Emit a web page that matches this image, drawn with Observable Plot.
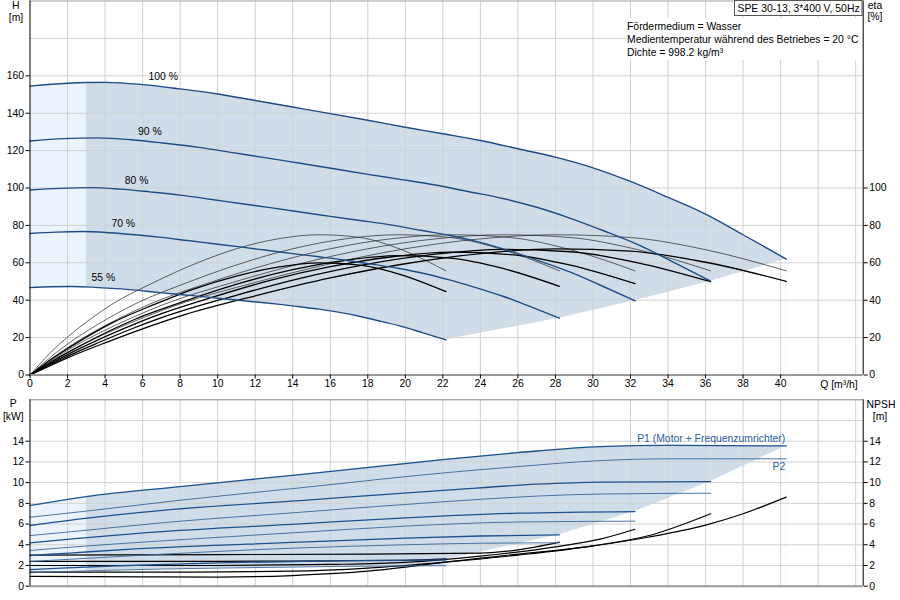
<!DOCTYPE html>
<html><head><meta charset="utf-8">
<script src="https://cdn.jsdelivr.net/npm/d3@7"></script>
<script src="https://cdn.jsdelivr.net/npm/@observablehq/plot@0.6"></script>
<style>
html,body{margin:0;padding:0;background:#fff;}
#chart svg{display:block;}
</style></head><body><div id="chart"></div>
<script>
// ---------- data ----------
const speeds = [100, 90, 80, 70, 55];

// Head H [m] vs Q [m3/h]
const h100Q = [0, 2, 3, 4, 6, 8, 10, 12, 14, 16, 18, 20, 22, 24, 26, 28, 30, 32, 34, 36, 38, 40.3];
const h100  = [154.5, 156, 156.4, 156.5, 155.3, 153, 150.3, 146.8, 143.3, 139.8, 136.2, 132.5, 129, 125.4, 121, 116.5, 110.8, 103.5, 95, 86, 75, 62];
const h90Q = [0, 1.8, 3.6, 5.4, 7.2, 9, 10.8, 12.6, 14.4, 16.2, 18, 19.8, 21.6, 23.4, 25.2, 27, 28.8, 30.6, 32.4, 34.2, 36.27];
const h90  = [125.1, 126.4, 126.8, 125.8, 123.9, 121.7, 118.9, 116.1, 113.2, 110.3, 107.3, 104.5, 101.6, 98, 94.4, 89.7, 83.8, 77, 69.7, 60.8, 50.2];
const h80Q = [0, 1.6, 3.2, 4.8, 6.4, 8, 9.6, 11.2, 12.8, 14.4, 16, 17.6, 19.2, 20.8, 22.4, 24, 25.6, 27.2, 28.8, 30.4, 32.24];
const h80  = [98.9, 99.8, 100.2, 99.4, 97.9, 96.2, 94, 91.7, 89.5, 87.2, 84.8, 82.6, 80.3, 77.4, 74.6, 70.9, 66.2, 60.8, 55, 48, 39.7];
const h70Q = [0, 1.4, 2.8, 4.2, 5.6, 7, 8.4, 9.8, 11.2, 12.6, 14, 15.4, 16.8, 18.2, 19.6, 21, 22.4, 23.8, 25.2, 26.6, 28.21];
const h70  = [75.7, 76.4, 76.7, 76.1, 75, 73.6, 71.9, 70.2, 68.5, 66.7, 64.9, 63.2, 61.4, 59.3, 57.1, 54.3, 50.7, 46.6, 42.1, 36.8, 30.4];
const h55Q = [0, 1.1, 2.2, 3.3, 4.4, 5.5, 6.6, 7.7, 8.8, 9.9, 11, 12.1, 13.2, 14.3, 15.4, 16.5, 17.6, 18.7, 19.8, 20.9, 22.17];
const h55  = [46.7, 47.2, 47.3, 47, 46.3, 45.5, 44.4, 43.3, 42.3, 41.2, 40.1, 39, 37.9, 36.6, 35.2, 33.5, 31.3, 28.7, 26, 22.7, 18.8];

// Efficiency eta [%]: pump (thin) and total (thick)
const eta100Q = [0, 2, 4, 6, 8, 12, 16, 20, 24, 28, 32, 36, 40.3];
const eta90Q  = [0, 1.8, 3.6, 5.4, 7.2, 10.8, 14.4, 18, 21.6, 25.2, 28.8, 32.4, 36.27];
const eta80Q  = [0, 1.6, 3.2, 4.8, 6.4, 9.6, 12.8, 16, 19.2, 22.4, 25.6, 28.8, 32.24];
const eta70Q  = [0, 1.4, 2.8, 4.2, 5.6, 8.4, 11.2, 14, 16.8, 19.6, 22.4, 25.2, 28.21];
const eta55Q  = [0, 1.1, 2.2, 3.3, 4.4, 6.6, 8.8, 11, 13.2, 15.4, 17.6, 19.8, 22.17];
const etaPump100 = [0, 12, 22, 30.5, 38, 49.5, 59.5, 67.5, 72.8, 75, 73.5, 67, 55.7];
const etaPump90  = [0, 12, 22, 30.5, 38, 49.5, 59.5, 67.5, 72.8, 75, 73.5, 67, 55.7];
const etaPump80  = [0, 12, 22, 30.5, 38, 49.5, 59.5, 67.5, 72.8, 75, 73.5, 67, 55.7];
const etaPump70  = [0, 12, 22, 30.5, 38, 49.5, 59.5, 67.5, 72.8, 75, 73.5, 67, 55.7];
const etaPump55  = [0, 12, 22, 30.5, 38, 49.5, 59.5, 67.5, 72.8, 75, 73.5, 67, 55.7];
const etaTot100 = [0, 9.2, 17.2, 24.7, 31.5, 42.3, 51.9, 59.5, 64.9, 67.5, 66.2, 60.3, 50.1];
const etaTot90  = [0, 9.1, 17.1, 24.6, 31.3, 42.1, 51.7, 59.3, 64.6, 67.2, 65.9, 60, 49.9];
const etaTot80  = [0, 8.9, 16.8, 24, 30.6, 41.2, 50.6, 57.9, 63.1, 65.7, 64.4, 58.7, 48.8];
const etaTot70  = [0, 8.7, 16.3, 23.4, 29.8, 40, 49.1, 56.3, 61.3, 63.8, 62.5, 57, 47.4];
const etaTot55  = [0, 8.2, 15.3, 22, 28, 37.6, 46.2, 52.9, 57.7, 60, 58.8, 53.6, 44.6];

// Power P1 / P2 [kW]
const p100Q = [0, 3, 8, 14.4, 22.4, 26, 30.4, 34, 40.3];
const p1_100 = [7.8, 8.66, 9.62, 10.78, 12.3, 12.9, 13.48, 13.6, 13.55];
const p2_100 = [6.66, 7.25, 8.3, 9.5, 11.0, 11.55, 12.13, 12.3, 12.3];
const p90Q = [0, 2.7, 7.2, 14.4, 22.4, 27, 30.4, 36.27];
const p1_90 = [5.86, 6.5, 7.35, 8.27, 9.3, 9.85, 10.05, 10.1];
const p2_90 = [4.89, 5.35, 6.15, 7.14, 8.2, 8.7, 8.9, 8.98];
const p80Q = [0, 2.4, 6.4, 14.4, 20, 26, 32.24];
const p1_80 = [4.19, 4.6, 5.2, 6.02, 6.6, 7.05, 7.21];
const p2_80 = [3.45, 3.8, 4.3, 5.2, 5.8, 6.2, 6.28];
const p70Q = [0, 2.1, 5.6, 14.4, 20, 24, 28.21];
const p1_70 = [2.96, 3.2, 3.6, 4.25, 4.65, 4.85, 4.96];
const p2_70 = [2.38, 2.6, 2.95, 3.7, 4.0, 4.15, 4.19];
const p55Q = [0, 1.65, 4.4, 10, 16, 22.17];
const p1_55 = [1.6, 1.75, 1.95, 2.25, 2.45, 2.55];
const p2_55 = [1.3, 1.4, 1.55, 1.75, 1.9, 1.98];

// NPSH [m]
const n100Q = [0, 6, 10, 14, 18, 20, 22, 25.3, 29.5, 33, 36, 38, 40.3];
const n100  = [0.95, 0.9, 0.88, 1.03, 1.45, 1.84, 2.3, 2.96, 3.77, 4.75, 5.9, 7.0, 8.6];
const n90Q = [0, 8, 14, 18, 22, 26, 30, 33, 36.27];
const n90  = [1.35, 1.35, 1.45, 1.75, 2.3, 3.0, 3.9, 4.9, 7.0];
const n80Q = [0, 10, 16, 20, 24, 28, 30.5, 32.24];
const n80  = [2.0, 2.0, 2.1, 2.3, 2.9, 3.8, 4.6, 5.5];
const n70Q = [0, 10, 18, 24, 26, 28.21];
const n70  = [3.0, 3.05, 3.1, 3.2, 3.5, 4.25];
const n55Q = [0, 10, 16, 20, 22.17];
const n55  = [2.4, 2.4, 2.45, 2.5, 2.64];

// ticks
const qTicks = [0, 2, 4, 6, 8, 10, 12, 14, 16, 18, 20, 22, 24, 26, 28, 30, 32, 34, 36, 38, 40];
const qGrid = [2, 4, 6, 8, 10, 12, 14, 16, 18, 20, 22, 24, 26, 28, 30, 32, 34, 36, 38, 40, 42, 44];
const hTicks = [0, 20, 40, 60, 80, 100, 120, 140, 160];
const hGrid = [20, 40, 60, 80, 100, 120, 140, 160, 180];
const etaTicks = [0, 20, 40, 60, 80, 100];
const pTicks = [0, 2, 4, 6, 8, 10, 12, 14];
const pGrid = [2, 4, 6, 8, 10, 12, 14, 16];

// ---------- tables ----------
const rows = (qs, vs, extra) => qs.map((q, j) => ({Q: q, v: vs[j], ...extra}));
const hQ = [h100Q, h90Q, h80Q, h70Q, h55Q];
const hV = [h100, h90, h80, h70, h55];
const hRows = speeds.flatMap((s, i) => rows(hQ[i], hV[i], {speed: s}));
const etaQ = [eta100Q, eta90Q, eta80Q, eta70Q, eta55Q];
const etaP = [etaPump100, etaPump90, etaPump80, etaPump70, etaPump55];
const etaT = [etaTot100, etaTot90, etaTot80, etaTot70, etaTot55];
const etaPumpRows = speeds.flatMap((s, i) => rows(etaQ[i], etaP[i], {speed: s}));
const etaTotRows = speeds.flatMap((s, i) => rows(etaQ[i], etaT[i], {speed: s}));
const pQ = [p100Q, p90Q, p80Q, p70Q, p55Q];
const p1V = [p1_100, p1_90, p1_80, p1_70, p1_55];
const p2V = [p2_100, p2_90, p2_80, p2_70, p2_55];
const p1Rows = speeds.flatMap((s, i) => rows(pQ[i], p1V[i], {speed: s}));
const p2Rows = speeds.flatMap((s, i) => rows(pQ[i], p2V[i], {speed: s}));
const nQ = [n100Q, n90Q, n80Q, n70Q, n55Q];
const nV = [n100, n90, n80, n70, n55];
const nRows = speeds.flatMap((s, i) => rows(nQ[i], nV[i], {speed: s}));

const hEnds = speeds.map((s, i) => ({Q: hQ[i].at(-1), v: hV[i].at(-1)})).sort((a, b) => a.Q - b.Q);
const pEnds = speeds.map((s, i) => ({Q: pQ[i].at(-1), v: p1V[i].at(-1)})).sort((a, b) => a.Q - b.Q);
const labelRows = speeds.map((s, i) => {
  const q = 7.1 * s / 100;
  return {Q: q, v: d3.scaleLinear(hQ[i], hV[i])(q), text: s + " %"};
});

// ---------- styles ----------
const FONT = '"Liberation Sans", Arial, sans-serif';
const FS = "10.4px";
const BLUE = "#1f4c85";
const LIGHT = "#ebf4fc";
const DARK = "#d0dde9";
const GRID = "#d0d0d0";
const XMAX = 44.4;
const baseStyle = {fontFamily: FONT, fontSize: FS, color: "#000", background: "none", overflow: "visible"};

// ---------- top chart ----------
const topChart = Plot.plot({
  width: 900, height: 392,
  marginLeft: 29.5, marginRight: 37.3, marginTop: 0.5, marginBottom: 17.5,
  x: {domain: [0, XMAX]},
  y: {domain: [0, 200]},
  style: baseStyle,
  marks: [
    Plot.areaY(hRows.filter(d => d.speed === 100 && d.Q <= 3), {x: "Q", y: "v", fill: LIGHT, curve: "monotone-x"}),
    Plot.areaY(hRows.filter(d => d.speed === 100 && d.Q >= 3), {x: "Q", y: "v", fill: DARK, curve: "monotone-x"}),
    Plot.areaY(hRows.filter(d => d.speed === 55), {x: "Q", y: "v", fill: "#fff", curve: "monotone-x"}),
    Plot.areaY(hEnds, {x: "Q", y: "v", fill: "#fff"}),
    Plot.ruleX(qGrid, {stroke: GRID}),
    Plot.ruleY(hGrid, {stroke: GRID}),
    Plot.ruleY([200], {stroke: "#a0a0a0"}),
    Plot.line(etaPumpRows, {x: "Q", y: "v", z: "speed", stroke: "#222", strokeWidth: 0.7, curve: "monotone-x"}),
    Plot.line(etaTotRows, {x: "Q", y: "v", z: "speed", stroke: "#000", strokeWidth: 1.3, curve: "monotone-x"}),
    Plot.line(hRows, {x: "Q", y: "v", z: "speed", stroke: BLUE, strokeWidth: 1.4, curve: "monotone-x"}),
    Plot.text(labelRows, {x: "Q", y: "v", text: "text", dy: -10, fill: "#000"}),
    Plot.ruleY([0], {stroke: "#999", strokeWidth: 2}),
    Plot.ruleX([0], {stroke: "#000"}),
    Plot.ruleX([XMAX], {stroke: "#000"}),
    Plot.axisX(qTicks, {tickSize: 4, tickPadding: 1, label: null}),
    Plot.axisY(hTicks, {anchor: "left", tickSize: 4, tickPadding: 2, label: null}),
    Plot.axisY(etaTicks, {anchor: "right", tickSize: 4, tickPadding: 2, label: null})
  ]
});

// ---------- bottom chart ----------
const botChart = Plot.plot({
  width: 900, height: 208,
  marginLeft: 29.5, marginRight: 37.3, marginTop: 7.3, marginBottom: 14.3,
  x: {domain: [0, XMAX], axis: null},
  y: {domain: [0, 18]},
  style: baseStyle,
  marks: [
    Plot.areaY(p1Rows.filter(d => d.speed === 100 && d.Q <= 3), {x: "Q", y: "v", fill: LIGHT, curve: "monotone-x"}),
    Plot.areaY(p1Rows.filter(d => d.speed === 100 && d.Q >= 3), {x: "Q", y: "v", fill: DARK, curve: "monotone-x"}),
    Plot.areaY(p2Rows.filter(d => d.speed === 55), {x: "Q", y: "v", fill: "#fff", curve: "monotone-x"}),
    Plot.areaY(pEnds, {x: "Q", y: "v", fill: "#fff"}),
    Plot.ruleX(qGrid, {stroke: GRID}),
    Plot.ruleY(pGrid, {stroke: GRID}),
    Plot.ruleY([18], {stroke: "#888"}),
    Plot.line(nRows, {x: "Q", y: "v", z: "speed", stroke: "#000", strokeWidth: 1.2, curve: "monotone-x"}),
    Plot.line(p2Rows, {x: "Q", y: "v", z: "speed", stroke: "#3a6497", strokeWidth: 0.9, curve: "monotone-x"}),
    Plot.line(p1Rows, {x: "Q", y: "v", z: "speed", stroke: "#1d5190", strokeWidth: 1.3, curve: "monotone-x"}),
    Plot.text(p1Rows.filter(d => d.speed === 100).slice(-1), {x: "Q", y: "v", text: () => "P1 (Motor + Frequenzumrichter)", textAnchor: "end", dx: -1, dy: -7, fill: "#2a5d9c"}),
    Plot.text(p2Rows.filter(d => d.speed === 100).slice(-1), {x: "Q", y: "v", text: () => "P2", textAnchor: "end", dx: -1, dy: 8, fill: "#2a5d9c"}),
    Plot.ruleY([0], {stroke: "#999", strokeWidth: 2}),
    Plot.ruleX([0], {stroke: "#000"}),
    Plot.ruleX([XMAX], {stroke: "#000"}),
    Plot.axisY(pTicks, {anchor: "left", tickSize: 4, tickPadding: 2, label: null}),
    Plot.axisY(pTicks, {anchor: "right", tickSize: 4, tickPadding: 2, label: null})
  ]
});

// ---------- static annotations ----------
function addText(svg, x, y, str, anchor = "middle", fill = "#000") {
  d3.select(svg).append("text").attr("x", x).attr("y", y).attr("dy", "0.35em")
    .attr("text-anchor", anchor).attr("font-family", FONT).attr("font-size", FS)
    .attr("fill", fill).text(str);
}
// top
addText(topChart, 15.7, 5, "H");
addText(topChart, 16, 17.3, "[m]");
addText(topChart, 875, 5, "eta");
addText(topChart, 875, 16.7, "[%]");
addText(topChart, 839, 384, "Q [m³/h]");
d3.select(topChart).append("rect").attr("x", 625).attr("y", 18).attr("width", 237).attr("height", 42).attr("fill", "#fff");
addText(topChart, 627, 26, "Fördermedium = Wasser", "start");
addText(topChart, 627, 39.5, "Medientemperatur während des Betriebes = 20 °C", "start");
addText(topChart, 627, 52.5, "Dichte = 998.2 kg/m³", "start");
d3.select(topChart).append("rect").attr("x", 734.5).attr("y", 0.5).attr("width", 127.5).attr("height", 15)
  .attr("fill", "#fff").attr("stroke", "#555");
addText(topChart, 737.5, 8, "SPE 30-13, 3*400 V, 50Hz", "start");
// bottom
addText(botChart, 13.3, 11.5, "P");
addText(botChart, 13.3, 24, "[kW]");
addText(botChart, 881, 12, "NPSH");
addText(botChart, 880, 24, "[m]");

const host = document.getElementById("chart");
host.appendChild(topChart);
host.appendChild(botChart);
</script></body></html>
